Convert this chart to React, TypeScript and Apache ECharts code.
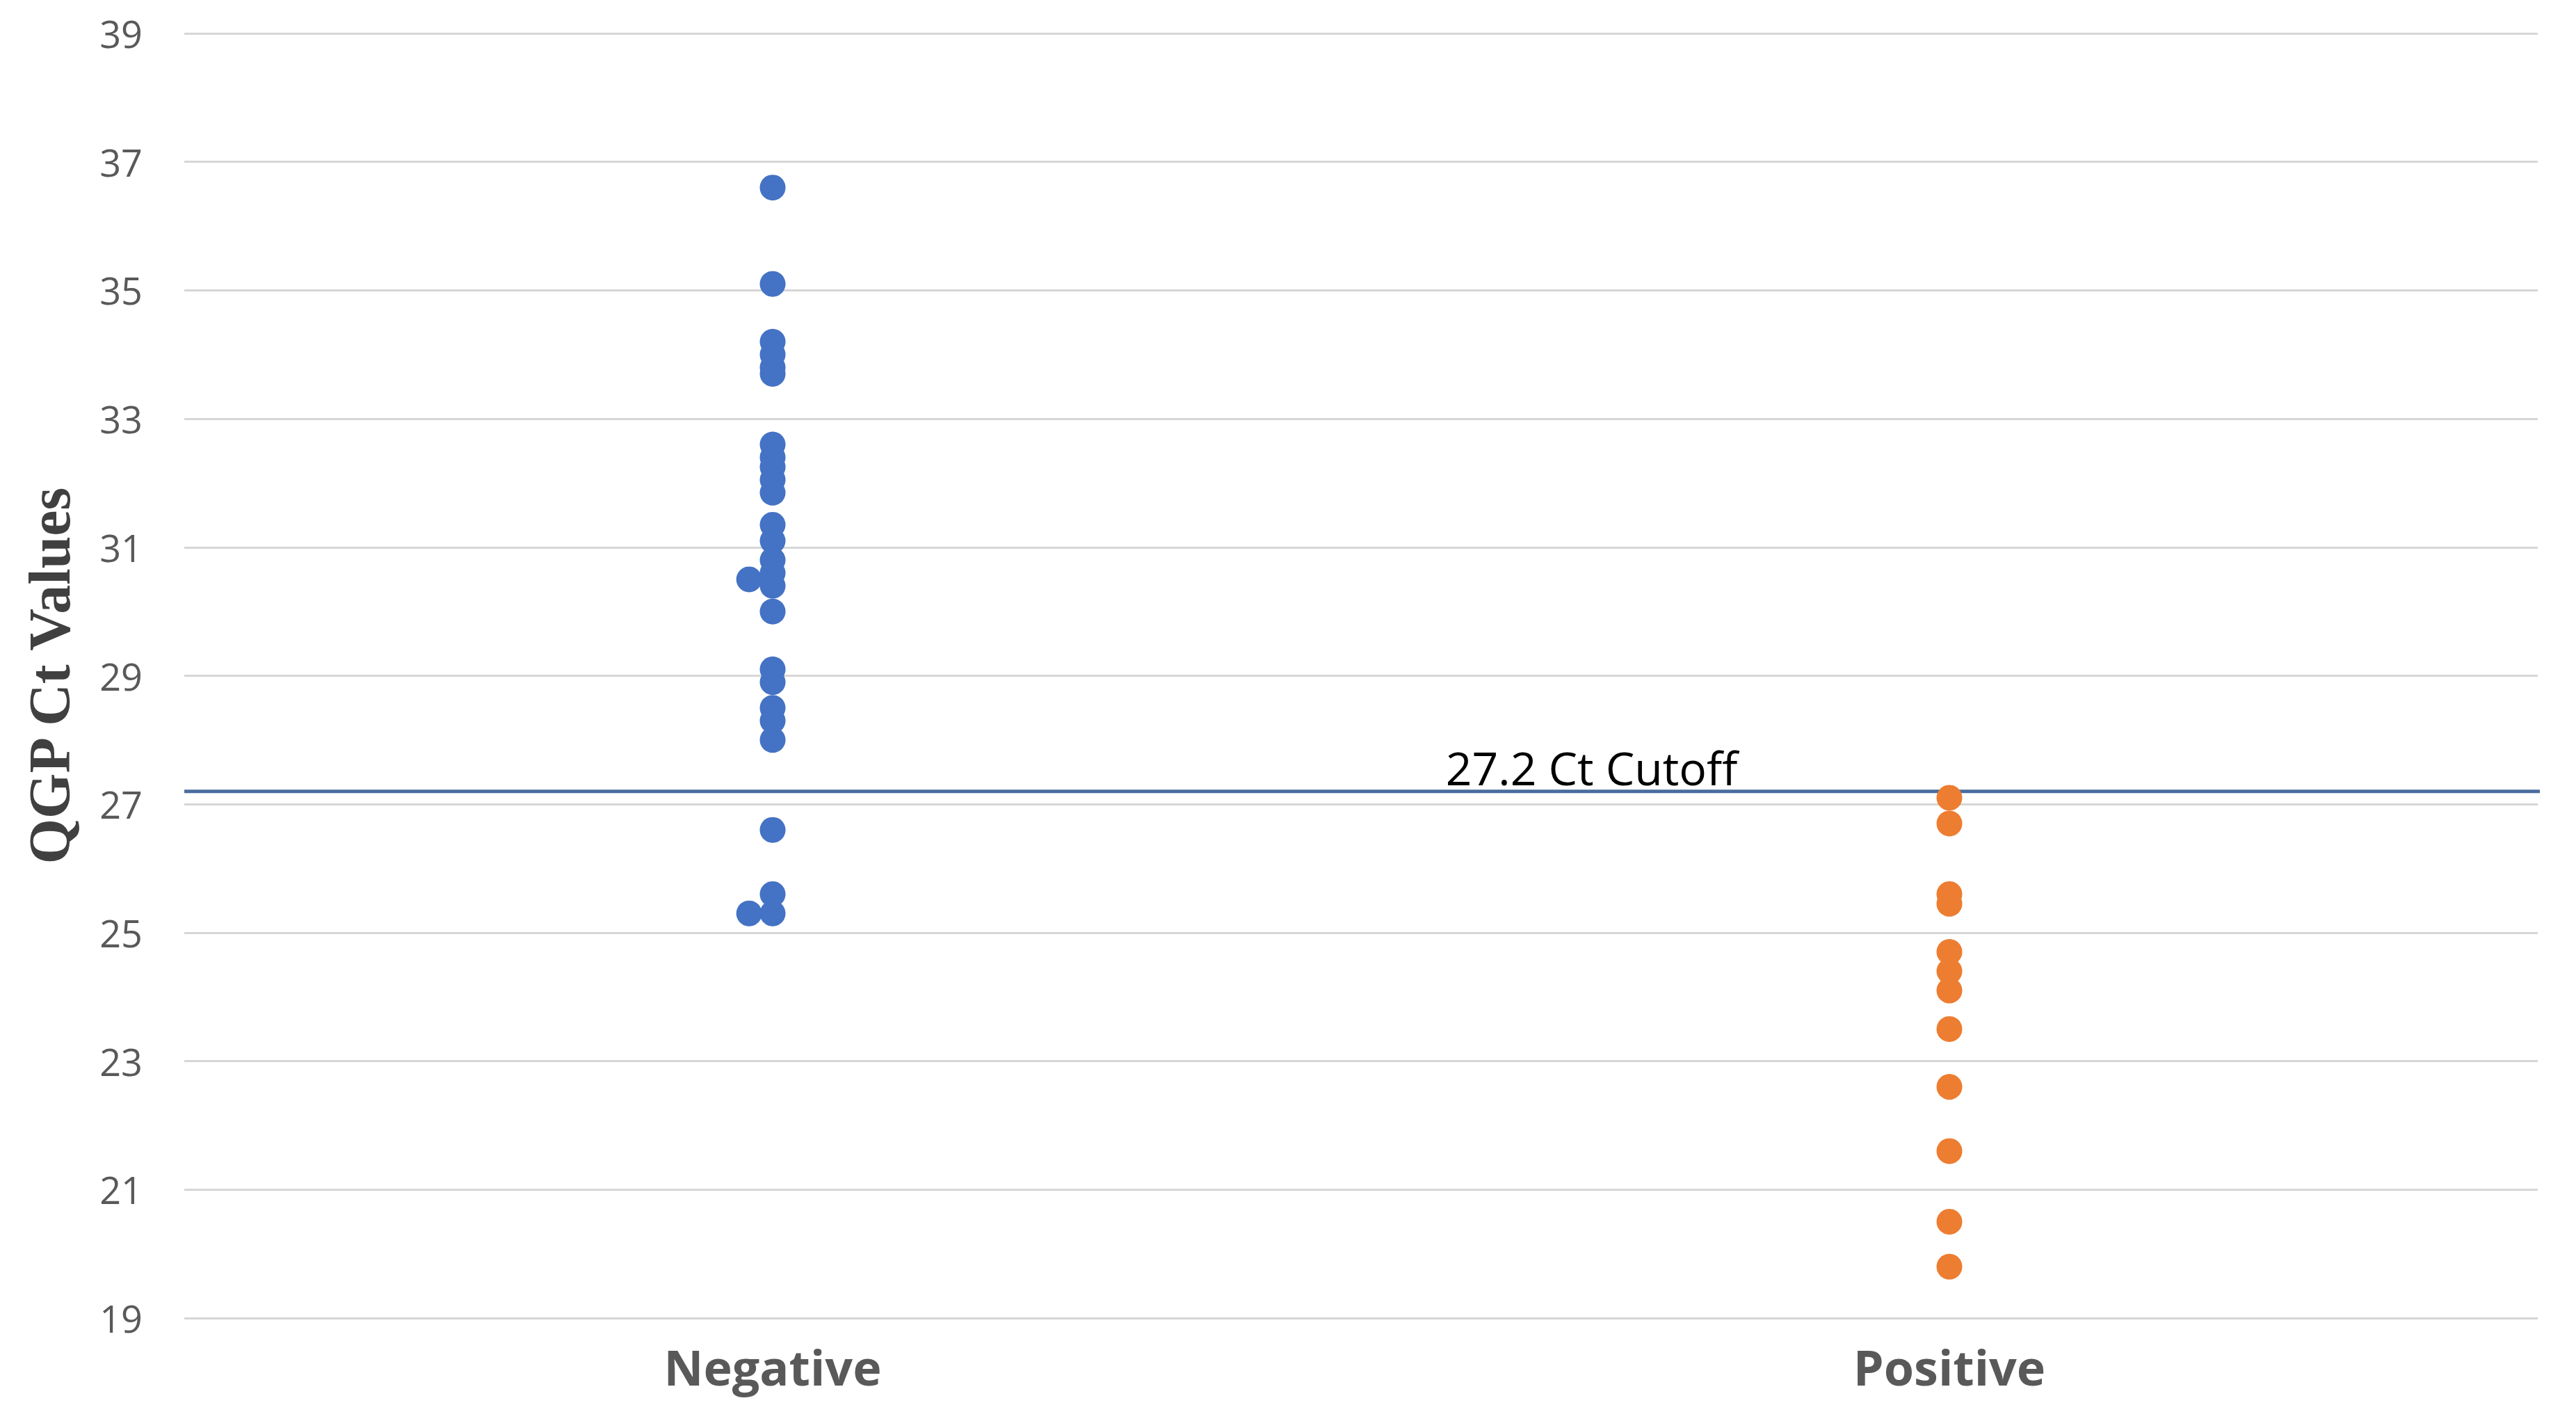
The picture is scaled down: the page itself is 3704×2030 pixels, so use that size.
import React, { useEffect, useRef } from "react";
import * as echarts from "echarts";

// ---- data ----
const categories = ["Negative", "Positive"];
const negativeValues = [
  36.6, 35.1, 34.2, 34.0, 33.8, 33.7, 32.6, 32.4, 32.25, 32.05, 31.85, 31.35,
  31.1, 30.8, 30.6, 30.4, 30.0, 29.1, 28.9, 28.5, 28.3, 28.0, 26.6, 25.6, 25.3,
];
const negativeSideValues = [30.5, 25.3]; // duplicates drawn slightly left
const positiveValues = [
  27.1, 26.7, 25.6, 25.45, 24.7, 24.4, 24.1, 23.5, 22.6, 21.6, 20.5, 19.8,
];
const cutoffValue = 27.2;
const cutoffLabel = "27.2 Ct Cutoff";
const yMin = 19;
const yMax = 39;
const yStep = 2;

// category centres on the x value scale (0..2)
const catPos = [0.5, 1.5];
const sideShift = -0.02;
const cutoffStartX = 0;
const cutoffEndX = 2.0225;
const cutoffLabelX = 1.196;

export default function App() {
  const ref = useRef<HTMLDivElement>(null);
  useEffect(() => {
    if (!ref.current) return;
    const chart = echarts.init(ref.current, undefined, { renderer: "svg" });
    const off = (v: number) => v - yMin;
    const option = {
      animation: false,
      backgroundColor: "#ffffff",
      grid: { left: 265, right: 55, top: 48, bottom: 135 },
      xAxis: {
        type: "value",
        min: 0,
        max: 2,
        interval: 0.5,
        axisLine: { show: false },
        axisTick: { show: false },
        splitLine: { show: false },
        axisLabel: {
          margin: 35,
          fontFamily: "Open Sans",
          fontWeight: "bold",
          fontSize: 70,
          color: "#595959",
          formatter: (v: number) => {
            const i = catPos.findIndex((p) => Math.abs(p - v) < 1e-6);
            return i >= 0 ? categories[i] : "";
          },
        },
      },
      yAxis: {
        type: "value",
        min: 0,
        max: yMax - yMin,
        interval: yStep,
        name: "QGP Ct Values",
        nameLocation: "middle",
        nameRotate: 90,
        nameGap: 152,
        nameTextStyle: {
          fontFamily: "Liberation Serif",
          fontWeight: "bold",
          fontSize: 84,
          color: "#404040",
        },
        axisLine: { show: false },
        axisTick: { show: false },
        splitLine: { lineStyle: { color: "#d6d6d6", width: 3 } },
        axisLabel: {
          margin: 60,
          fontFamily: "Open Sans",
          fontSize: 54,
          color: "#595959",
          formatter: (v: number) => String(v + yMin),
        },
      },
      series: [
        {
          type: "line",
          name: "Cutoff",
          data: [
            [cutoffStartX, off(cutoffValue)],
            [cutoffEndX, off(cutoffValue)],
          ],
          symbol: "none",
          clip: false,
          z: 1,
          lineStyle: { color: "#4a6c9e", width: 5 },
          markPoint: {
            symbol: "circle",
            symbolSize: 0,
            data: [{ coord: [cutoffLabelX, off(cutoffValue)] }],
            label: {
              show: true,
              position: "top",
              distance: 2,
              formatter: cutoffLabel,
              fontFamily: "Open Sans",
              fontSize: 66,
              color: "#000000",
            },
          },
        },
        {
          type: "scatter",
          name: categories[0],
          symbolSize: 37,
          z: 3,
          itemStyle: { color: "#4472C4", opacity: 1 },
          data: [
            ...negativeValues.map((v) => [catPos[0], off(v)]),
            ...negativeSideValues.map((v) => [catPos[0] + sideShift, off(v)]),
          ],
        },
        {
          type: "scatter",
          name: categories[1],
          symbolSize: 37,
          z: 3,
          itemStyle: { color: "#ED7D31", opacity: 1 },
          data: positiveValues.map((v) => [catPos[1], off(v)]),
        },
      ],
    };
    chart.setOption(option as any);
    return () => chart.dispose();
  }, []);
  return (
    <div
      ref={ref}
      style={{
        position: "fixed",
        left: 0,
        top: 0,
        width: "3704px",
        height: "2030px",
        background: "#fff",
      }}
    />
  );
}
